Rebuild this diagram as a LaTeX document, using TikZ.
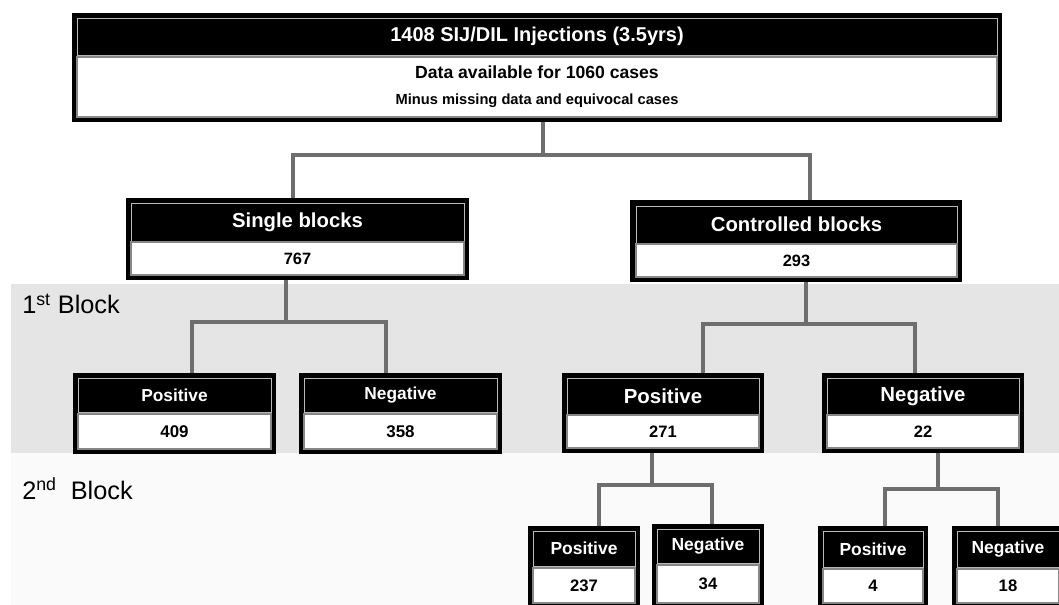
\documentclass[tikz,border=0pt]{standalone}
\usepackage{fontspec}
\setmainfont{Liberation Sans}
\usetikzlibrary{fit,backgrounds,positioning}
\definecolor{linkgray}{RGB}{110,110,110}
\definecolor{rimgray}{RGB}{135,135,135}
\tikzstyle{boxframe} = [draw=black, line width=3pt, fill=black, inner sep=0pt]
\tikzstyle{boxhead} = [draw=gray!55, line width=0.6pt, fill=black, inner sep=0pt]
\tikzstyle{boxbody} = [draw=rimgray, line width=1.2pt, fill=white, inner sep=0pt]
\tikzstyle{headtext} = [text=white, inner sep=0pt, font=\bfseries]
\tikzstyle{bodytext} = [text=black, inner sep=0pt, font=\bfseries]
\tikzstyle{elbow} = [draw=linkgray, line width=3.3pt]
\newcommand{\fsz}[1]{\fontsize{#1}{#1}\selectfont}

\begin{document}
\begin{tikzpicture}[x=0.75pt, y=-0.75pt]
            \clip (0,0) rectangle (1059,605);
            % top box
            \node[boxframe, fit={(74,15) (1000,120)}] (inj) {};
            \node[boxhead, fit={(77,18) (997,55)}] (injH) {};
            \node[boxbody, fit={(77,57) (997,117)}] (injB) {};
            \node[headtext, font=\bfseries\fsz{15}] (injT) at (injH) {1408 SIJ/DIL Injections (3.5yrs)};
            \node[bodytext, font=\bfseries\fsz{13.2}] (avail) at (537,72) {Data available for 1060 cases};
            \node[bodytext, font=\bfseries\fsz{11}] (minus) at (537,101) {Minus missing data and equivocal cases};
            % single / controlled
            \node[boxframe, fit={(128,200) (467,278)}] (single) {};
            \node[boxhead, fit={(131,203) (464,241)}] (singleH) {};
            \node[boxbody, fit={(131,242) (464,275)}] (singleB) {};
            \node[headtext, font=\bfseries\fsz{15.2}] (singleT) at (singleH) {Single blocks};
            \node[bodytext, font=\bfseries\fsz{12.3}] (singleN) at (singleB) {767};
            \node[boxframe, fit={(632,202) (960,280)}] (ctrl) {};
            \node[boxhead, fit={(636,206) (957,243)}] (ctrlH) {};
            \node[boxbody, fit={(636,244) (957,277)}] (ctrlB) {};
            \node[headtext, font=\bfseries\fsz{15.2}] (ctrlT) at (ctrlH) {Controlled blocks};
            \node[bodytext, font=\bfseries\fsz{12.3}] (ctrlN) at (ctrlB) {293};
            % 1st block
            \node[boxframe, fit={(75,375) (274,452)}] (sp) {};
            \node[boxhead, fit={(78,378) (271,412)}] (spH) {};
            \node[boxbody, fit={(78,414) (271,449)}] (spB) {};
            \node[headtext, font=\bfseries\fsz{13}] (spT) at (spH) {Positive};
            \node[bodytext, font=\bfseries\fsz{12.7}] (spN) at (spB) {409};
            \node[boxframe, fit={(301,375) (500,452)}] (sn) {};
            \node[boxhead, fit={(304,378) (497,412)}] (snH) {};
            \node[boxbody, fit={(304,414) (497,449)}] (snB) {};
            \node[headtext, font=\bfseries\fsz{13}] (snT) at (snH) {Negative};
            \node[bodytext, font=\bfseries\fsz{12.7}] (snN) at (snB) {358};
            \node[boxframe, fit={(564,375) (762,451)}] (cp) {};
            \node[boxhead, fit={(567,378) (759,414)}] (cpH) {};
            \node[boxbody, fit={(567,415) (759,448)}] (cpB) {};
            \node[headtext, font=\bfseries\fsz{15.3}] (cpT) at (cpH) {Positive};
            \node[bodytext, font=\bfseries\fsz{12.4}] (cpN) at (cpB) {271};
            \node[boxframe, fit={(824,375) (1022,451)}] (cn) {};
            \node[boxhead, fit={(827,378) (1019,414)}] (cnH) {};
            \node[boxbody, fit={(827,415) (1019,448)}] (cnB) {};
            \node[headtext, font=\bfseries\fsz{15.3}] (cnT) at (cnH) {Negative};
            \node[bodytext, font=\bfseries\fsz{12.4}] (cnN) at (cnB) {22};
            % 2nd block
            \node[boxframe, fit={(530,528) (638,606)}] (cpp) {};
            \node[boxhead, fit={(533,531) (635,566)}] (cppH) {};
            \node[boxbody, fit={(533,568) (635,603)}] (cppB) {};
            \node[headtext, font=\bfseries\fsz{13.1}] (cppT) at (cppH) {Positive};
            \node[bodytext, font=\bfseries\fsz{12.5}] (cppN) at (cppB) {237};
            \node[boxframe, fit={(654,526) (762,606)}] (cpn) {};
            \node[boxhead, fit={(657,529) (759,563)}] (cpnH) {};
            \node[boxbody, fit={(657,565) (759,603)}] (cpnB) {};
            \node[headtext, font=\bfseries\fsz{13.1}] (cpnT) at (cpnH) {Negative};
            \node[bodytext, font=\bfseries\fsz{12.5}] (cpnN) at (cpnB) {34};
            \node[boxframe, fit={(820,528) (926,606)}] (cnp) {};
            \node[boxhead, fit={(823,531) (923,567)}] (cnpH) {};
            \node[boxbody, fit={(823,569) (923,603)}] (cnpB) {};
            \node[headtext, font=\bfseries\fsz{13.1}] (cnpT) at (cnpH) {Positive};
            \node[bodytext, font=\bfseries\fsz{12.5}] (cnpN) at (cnpB) {4};
            \node[boxframe, fit={(954,528) (1062,606)}] (cnn) {};
            \node[boxhead, fit={(957,531) (1059,567)}] (cnnH) {};
            \node[boxbody, fit={(957,569) (1059,603)}] (cnnB) {};
            \node[headtext, font=\bfseries\fsz{13.1}] (cnnT) at (cnnH) {Negative};
            \node[bodytext, font=\bfseries\fsz{12.5}] (cnnN) at (cnnB) {18};
            % bands and labels
            \begin{scope}[on background layer]
            \fill[gray!20] (11,284) rectangle (1059,453);
            \fill[gray!4] (11,453) rectangle (1059,605);
            \end{scope}
            \node[anchor=base west, inner sep=0pt, font=\fsz{19}] (blk1) at (22,314) {1\textsuperscript{st} Block};
            \node[anchor=base west, inner sep=0pt, font=\fsz{19}] (blk2) at (22,499) {2\textsuperscript{nd}\ \ Block};
            % connectors
            \begin{scope}[on background layer]
            \coordinate (j0) at (543,155);
            \coordinate (j0l) at (293,155);
            \coordinate (j0r) at (810,155);
            \draw[elbow] (inj.south -| j0) -- (j0);
            \draw[elbow] (single.north -| j0l) -- (j0l) -- (j0r) -- (ctrl.north -| j0r);
            \coordinate (j1) at (286,322);
            \coordinate (j1l) at (192,322);
            \coordinate (j1r) at (386,322);
            \draw[elbow] (single.south -| j1) -- (j1);
            \draw[elbow] (sp.north -| j1l) -- (j1l) -- (j1r) -- (sn.north -| j1r);
            \coordinate (j2) at (806,324);
            \coordinate (j2l) at (703,324);
            \coordinate (j2r) at (915,324);
            \draw[elbow] (ctrl.south -| j2) -- (j2);
            \draw[elbow] (cp.north -| j2l) -- (j2l) -- (j2r) -- (cn.north -| j2r);
            \coordinate (j3) at (652,485);
            \coordinate (j3l) at (599,485);
            \coordinate (j3r) at (712,485);
            \draw[elbow] (cp.south -| j3) -- (j3);
            \draw[elbow] (cpp.north -| j3l) -- (j3l) -- (j3r) -- (cpn.north -| j3r);
            \coordinate (j4) at (938,489);
            \coordinate (j4l) at (885,489);
            \coordinate (j4r) at (998,489);
            \draw[elbow] (cn.south -| j4) -- (j4);
            \draw[elbow] (cnp.north -| j4l) -- (j4l) -- (j4r) -- (cnn.north -| j4r);
            \end{scope}
\end{tikzpicture}
\end{document}
